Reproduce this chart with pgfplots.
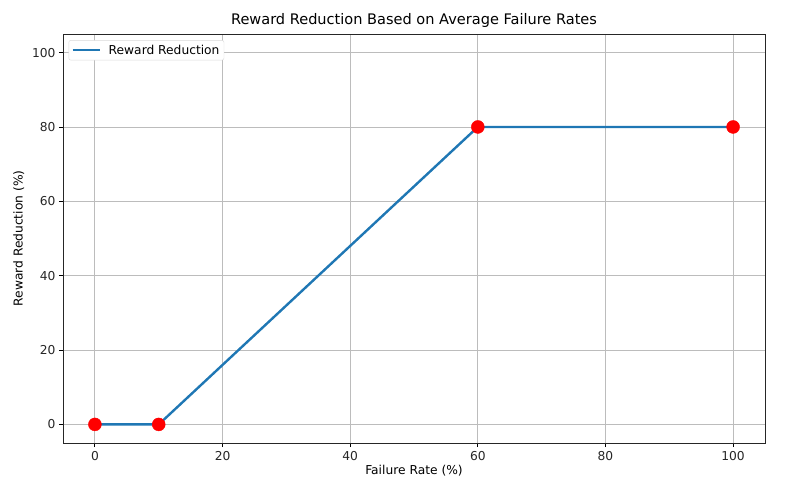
\documentclass[border=0pt]{standalone}
\usepackage{fontspec}
\setmainfont{DejaVu Sans}
\usepackage{pgfplots}
\pgfplotsset{compat=1.18}

\definecolor{mplblue}{HTML}{1F77B4}
\definecolor{gridgray}{HTML}{B0B0B0}

\begin{document}
\begin{tikzpicture}
\begin{axis}[
    name=ax,
    scale only axis,
    width=702bp, height=409bp,
    xmin=-5, xmax=105,
    ymin=-5, ymax=105,
    xtick={0,20,...,100},
    ytick={0,20,...,100},
    tick align=outside,
    tick pos=left,
    major tick length=4bp,
    every tick/.style={black, line width=0.9bp},
    axis line style={line width=0.9bp, black!85},
    grid=major,
    grid style={gridgray!85, line width=0.9bp},
    /pgf/number format/assume math mode=true,
    ticklabel style={font=\fontsize{12.3}{14}\selectfont, text=black!85},
    xticklabel style={yshift=-1bp},
    xlabel={Failure Rate (\%)},
    ylabel={Reward Reduction (\%)},
    label style={font=\fontsize{12.3}{14}\selectfont},
    xlabel style={yshift=2bp},
    ylabel style={yshift=1bp},
    title={Reward Reduction Based on Average Failure Rates},
    title style={font=\fontsize{14.6}{17}\selectfont, yshift=-3bp},
    legend style={font=\fontsize{12.3}{14}\selectfont, draw=black!15, rounded corners=2bp,
                  at={(rel axis cs:0.008,0.985)}, anchor=north west, inner sep=2.5bp},
    legend cell align=left,
    legend image code/.code={\draw[mplblue, line width=2.4bp] (0cm,0cm) -- (27bp,0cm);
                             \path (33bp,0cm);},
]
\addplot[mplblue, line width=2.4bp, no markers] coordinates {
    (0,0) (10,0) (60,80) (100,80)
};
\addlegendentry{Reward Reduction}
\addplot[only marks, mark=*, mark size=6.5bp, draw=red, fill=red, forget plot] coordinates {
    (0,0) (10,0) (60,80) (100,80)
};
\end{axis}
\pgfresetboundingbox
\path[use as bounding box] ([shift={(-63bp,-55bp)}]ax.south west) rectangle ([shift={(34bp,34bp)}]ax.north east);
\end{tikzpicture}
\end{document}
